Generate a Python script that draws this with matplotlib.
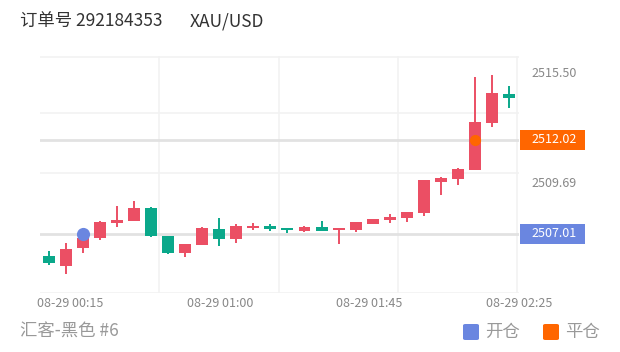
import matplotlib
matplotlib.use("Agg")
import matplotlib.pyplot as plt
from matplotlib.patches import Rectangle, FancyBboxPatch
from matplotlib.transforms import blended_transform_factory

plt.rcParams['font.family'] = ['Noto Sans CJK SC', 'DejaVu Sans']

# ---- data ----
opens  = [2505.86, 2505.33, 2506.25, 2506.78, 2507.59, 2507.70, 2508.37, 2506.92,
          2505.99, 2506.43, 2507.27, 2506.74, 2507.34, 2507.45, 2507.34, 2507.18,
          2507.36, 2507.21, 2507.22, 2507.52, 2507.75, 2507.86, 2508.11, 2509.78,
          2509.91, 2510.40, 2512.88, 2514.43]
closes = [2505.46, 2506.21, 2506.78, 2507.63, 2507.75, 2508.37, 2506.92, 2505.99,
          2506.46, 2507.31, 2506.74, 2507.45, 2507.45, 2507.27, 2507.21, 2507.36,
          2507.18, 2507.29, 2507.63, 2507.82, 2507.91, 2508.16, 2509.87, 2509.96,
          2510.46, 2512.93, 2514.47, 2514.20]
highs  = [2506.11, 2506.55, 2507.05, 2507.68, 2508.49, 2508.76, 2508.46, 2506.92,
          2506.46, 2507.36, 2507.87, 2507.52, 2507.58, 2507.54, 2507.34, 2507.43,
          2507.71, 2507.29, 2507.63, 2507.82, 2508.05, 2508.16, 2509.87, 2510.02,
          2510.50, 2515.35, 2515.44, 2514.86]
lows   = [2505.37, 2504.89, 2505.99, 2506.69, 2507.36, 2507.70, 2506.83, 2505.95,
          2505.77, 2506.43, 2506.39, 2506.52, 2507.22, 2507.18, 2507.05, 2507.12,
          2507.18, 2506.48, 2507.12, 2507.52, 2507.58, 2507.63, 2507.98, 2509.08,
          2509.61, 2510.40, 2512.70, 2513.67]
x_tick_pos = [1.26, 10.03, 18.80, 27.57]
x_tick_labels = ["08-29 00:15", "08-29 01:00", "08-29 01:45", "08-29 02:25"]
y_labels = [2515.50, 2509.69]
open_price = 2507.01
close_price = 2512.02
open_idx = 2
close_idx = 25
title_order = "订单号 292184353"
title_symbol = "XAU/USD"
footer_text = "汇客-黑色 #6"
legend_labels = ["开仓", "平仓"]

# ---- style ----
RED = '#eb4f64'
GREEN = '#0aa88a'
BLUE = '#6a86e0'
ORANGE = '#ff6600'
W, H = 620, 352

fig = plt.figure(figsize=(W / 100, H / 100), dpi=100)
ax = fig.add_axes([40 / W, (H - 293) / H, (519 - 40) / W, (293 - 56) / H])
ymin, ymax = 2503.88, 2516.45
ax.set_xlim(-0.5, 27.5)
ax.set_ylim(ymin, ymax)
for s in ax.spines.values():
    s.set_visible(False)
ax.set_yticks([])
ax.tick_params(axis='x', length=0, pad=3, labelsize=9, labelcolor='#888888')
ax.set_xticks(x_tick_pos)
ax.set_xticklabels(x_tick_labels)

# grid
for gy in [ymin + 0.02, 2510.23, 2513.41, ymax - 0.03]:
    ax.axhline(gy, color='#f2f2f2', lw=1.2, zorder=0)
for gx in [6.5, 13.5, 20.5, 27.45]:
    ax.axvline(gx, color='#f2f2f2', lw=1.2, zorder=0)

# price lines
ax.axhline(open_price, color='#e2e2e2', lw=2, zorder=1)
ax.axhline(close_price, color='#e2e2e2', lw=2, zorder=1)

# candles
idx = list(range(len(opens)))
colors = [RED if c >= o else GREEN for o, c in zip(opens, closes)]
ax.vlines(idx, lows, highs, colors=colors, lw=1.4, zorder=2)
bottoms = [min(o, c) for o, c in zip(opens, closes)]
heights = [max(abs(c - o), 0.12) for o, c in zip(opens, closes)]
ax.bar(idx, heights, bottom=bottoms, width=0.70, color=colors, zorder=3, linewidth=0)

# trade markers
ax.scatter([open_idx], [open_price], s=90, color=BLUE, zorder=5, linewidths=0)
ax.scatter([close_idx], [close_price], s=65, color=ORANGE, zorder=5, linewidths=0)

# right labels
bt = blended_transform_factory(fig.transFigure, ax.transData)
for v in y_labels:
    fig.text(531 / W, v, f"{v:.2f}", transform=bt, ha='left', va='center',
             fontsize=9, color='#888888')
box_h = 20 / ((293 - 56) / (ymax - ymin))
for v, col in [(close_price, ORANGE), (open_price, BLUE)]:
    r = Rectangle((520 / W, v - box_h / 2), 65 / W, box_h, transform=bt,
                  facecolor=col, edgecolor='none', clip_on=False)
    fig.add_artist(r)
    fig.text(531 / W, v, f"{v:.2f}", transform=bt, ha='left', va='center',
             fontsize=9, color='white')

# title
fig.text(20 / W, 1 - 21 / H, title_order, ha='left', va='center', fontsize=12.5, color='#333333')
fig.text(190 / W, 1 - 21 / H, title_symbol, ha='left', va='center', fontsize=12.5, color='#333333')

# footer
fig.text(20 / W, 1 - 332 / H, footer_text, ha='left', va='center', fontsize=12.5, color='#999999')
for (x0, col), lab in zip([(463, BLUE), (543, ORANGE)], legend_labels):
    p = FancyBboxPatch((x0 / W, 1 - 340 / H), 16 / W, 16 / H, transform=fig.transFigure,
                       boxstyle="round,pad=0,rounding_size=0.004", facecolor=col,
                       edgecolor='none')
    fig.add_artist(p)
    fig.text((x0 + 22) / W, 1 - 332 / H, lab, ha='left', va='center', fontsize=12.5, color='#999999')

fig.savefig("out.png", dpi=100, facecolor='white')
